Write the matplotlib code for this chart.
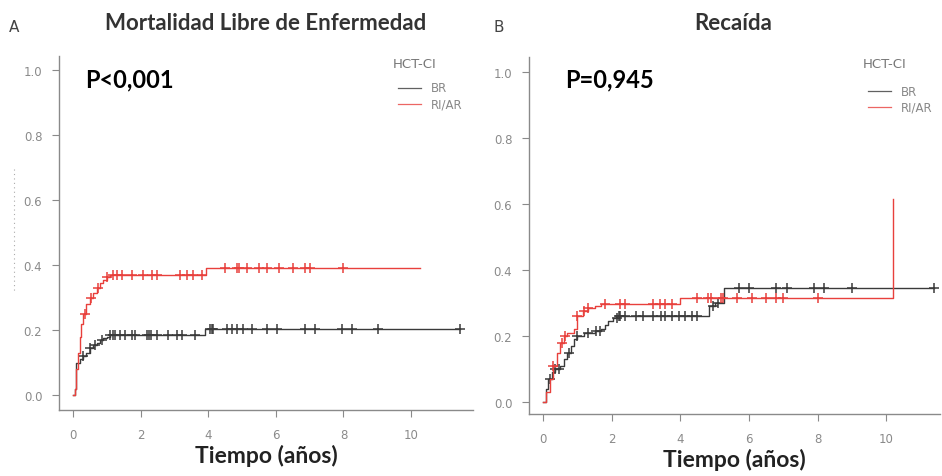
import numpy as np
import matplotlib
matplotlib.use("Agg")
import matplotlib.pyplot as plt
from matplotlib.lines import Line2D

# Panel A - Mortalidad Libre de Enfermedad
a_br_t = [0, 0.05, 0.1, 0.2, 0.3, 0.4, 0.5, 0.6, 0.7, 0.8, 0.9, 1.0, 1.1, 3.9]
a_br_y = [0, 0.02, 0.1, 0.11, 0.12, 0.13, 0.145, 0.155, 0.16, 0.17, 0.175, 0.18, 0.185, 0.203]
a_br_end = 11.45
a_br_cens = [0.3, 0.5, 0.65, 0.85, 1.1, 1.2, 1.25, 1.4, 1.55, 1.75, 1.83, 2.2, 2.25, 2.3, 2.5,
             2.8, 3.07, 3.22, 3.6, 4.05, 4.1, 4.15, 4.55, 4.7, 4.85, 5.03, 5.3, 5.74, 6.04,
             6.86, 7.16, 7.96, 8.25, 9.02, 11.45]

a_ri_t = [0, 0.05, 0.1, 0.15, 0.2, 0.25, 0.3, 0.4, 0.5, 0.6, 0.7, 0.8, 0.9, 1.0, 1.1, 3.95]
a_ri_y = [0, 0.02, 0.08, 0.13, 0.18, 0.22, 0.25, 0.28, 0.30, 0.315, 0.33, 0.345, 0.355, 0.363, 0.37, 0.39]
a_ri_end = 10.27
a_ri_cens = [0.35, 0.55, 0.75, 1.0, 1.18, 1.3, 1.45, 1.75, 2.07, 2.34, 2.49, 3.17, 3.37, 3.55,
             3.82, 4.5, 4.85, 4.9, 5.15, 5.5, 5.75, 6.1, 6.5, 6.85, 7.0, 8.0]

# Panel B - Recaida
b_br_t = [0, 0.1, 0.15, 0.25, 0.35, 0.5, 0.6, 0.7, 0.8, 0.9, 1.0, 1.2, 1.5, 1.7, 1.8, 1.9,
          2.05, 2.2, 4.85, 5.0, 5.28]
b_br_y = [0, 0.04, 0.07, 0.09, 0.1, 0.11, 0.13, 0.15, 0.17, 0.19, 0.2, 0.21, 0.215, 0.22,
          0.235, 0.245, 0.255, 0.26, 0.29, 0.3, 0.345]
b_br_end = 11.4
b_br_cens = [0.2, 0.35, 0.45, 0.75, 1.0, 1.3, 1.55, 1.65, 2.15, 2.2, 2.25, 2.4, 2.7, 2.9, 3.2,
             3.45, 3.55, 3.75, 3.95, 4.15, 4.35, 4.5, 4.95, 5.1, 5.7, 6.0, 6.8, 7.1, 7.9,
             8.2, 9.0, 11.4]

b_ri_t = [0, 0.1, 0.2, 0.3, 0.4, 0.5, 0.6, 0.7, 0.9, 1.0, 1.15, 1.3, 1.5, 1.7, 4.0, 10.2]
b_ri_y = [0, 0.03, 0.07, 0.11, 0.15, 0.18, 0.2, 0.21, 0.22, 0.26, 0.275, 0.285, 0.29, 0.297,
          0.315, 0.615]
b_ri_end = 10.2
b_ri_cens = [0.3, 0.55, 0.65, 1.0, 1.2, 1.3, 1.8, 2.25, 2.4, 3.2, 3.4, 3.55, 3.75, 4.5, 4.8,
             4.9, 5.2, 5.25, 5.65, 6.1, 6.5, 6.8, 7.0, 8.0]

groups = ["BR", "RI/AR"]
colors = {"BR": "#3a3a3a", "RI/AR": "#e8403c"}
yticks = [0.0, 0.2, 0.4, 0.6, 0.8, 1.0]
xticks = [0, 2, 4, 6, 8, 10]

TITLE_FONT = "Lato"


def draw_curve(ax, t, y, end, cens, color):
    t = list(t) + [end]
    y = list(y) + [y[-1]]
    ax.step(t, y, where="post", color=color, lw=1.0)
    idx = np.searchsorted(t, cens, side="right") - 1
    cy = np.array(y)[idx]
    ax.plot(cens, cy, ls="none", marker="+", ms=7, mew=1.1, color=color)


def style_axes(ax, xlim, ylim):
    ax.set_xlim(*xlim)
    ax.set_ylim(*ylim)
    for s in ["top", "right"]:
        ax.spines[s].set_visible(False)
    for s in ["left", "bottom"]:
        ax.spines[s].set_color("#8a8a8a")
        ax.spines[s].set_linewidth(1.0)
    ax.set_yticks(yticks)
    ax.set_yticklabels([f"{v:.1f}" for v in yticks])
    ax.set_xticks(xticks)
    ax.tick_params(colors="#8a8a8a", labelcolor="#8a8a8a", labelsize=8.5, length=5, width=0.8)
    ax.tick_params(axis="x", pad=8)
    ax.tick_params(axis="y", pad=7)
    ax.set_xlabel("Tiempo (años)", fontsize=16.5, fontweight="bold", family=TITLE_FONT,
                  color="#222222", labelpad=2)


fig = plt.figure(figsize=(9.42, 4.77), dpi=100)

axA = fig.add_axes([59 / 942, 1 - 411 / 477, (473 - 59) / 942, (411 - 57) / 477])
draw_curve(axA, a_br_t, a_br_y, a_br_end, a_br_cens, colors["BR"])
draw_curve(axA, a_ri_t, a_ri_y, a_ri_end, a_ri_cens, colors["RI/AR"])
style_axes(axA, (-0.41, 11.83), (-0.046, 1.043))

axB = fig.add_axes([529 / 942, 1 - 415 / 477, (940 - 529) / 942, (415 - 58) / 477])
draw_curve(axB, b_br_t, b_br_y, b_br_end, b_br_cens, colors["BR"])
draw_curve(axB, b_ri_t, b_ri_y, b_ri_end, b_ri_cens, colors["RI/AR"])
style_axes(axB, (-0.41, 11.57), (-0.036, 1.045))

# titles and panel letters
fig.text(266 / 942, 1 - 23 / 477, "Mortalidad Libre de Enfermedad", ha="center", va="center",
         fontsize=16, fontweight="bold", family=TITLE_FONT, color="#333333")
fig.text(733 / 942, 1 - 23 / 477, "Recaída", ha="center", va="center",
         fontsize=16, fontweight="bold", family=TITLE_FONT, color="#333333")
fig.text(14 / 942, 1 - 27 / 477, "A", ha="center", va="center", fontsize=11, color="#444444")
fig.text(499 / 942, 1 - 28 / 477, "B", ha="center", va="center", fontsize=11, color="#444444")

# p-values
fig.text(85 / 942, 1 - 80 / 477, "P<0,001", ha="left", va="center", fontsize=17,
         fontweight="bold", family=TITLE_FONT, color="black")
fig.text(565 / 942, 1 - 80 / 477, "P=0,945", ha="left", va="center", fontsize=17,
         fontweight="bold", family=TITLE_FONT, color="black")

# legends
for x0, ytitle, y1, y2 in [(393, 64, 89, 105), (863, 64, 92, 108)]:
    fig.text(x0 / 942, 1 - ytitle / 477, "HCT-CI", ha="left", va="center", fontsize=9.5,
             color="#777777")
    for g, yy in zip(groups, [y1, y2]):
        fig.add_artist(Line2D([(x0 + 5) / 942, (x0 + 28) / 942], [1 - yy / 477, 1 - yy / 477],
                              color=colors[g], lw=0.9, alpha=0.8))
        fig.text((x0 + 38) / 942, 1 - yy / 477, g, ha="left", va="center", fontsize=8.5,
                 color="#888888")

# faint dotted remnant at left edge
fig.add_artist(Line2D([14 / 942, 14 / 942], [1 - 170 / 477, 1 - 292 / 477], color="#aaaaaa",
                      lw=0.8, ls=(0, (1, 3))))

fig.savefig("out.png", dpi=100)
